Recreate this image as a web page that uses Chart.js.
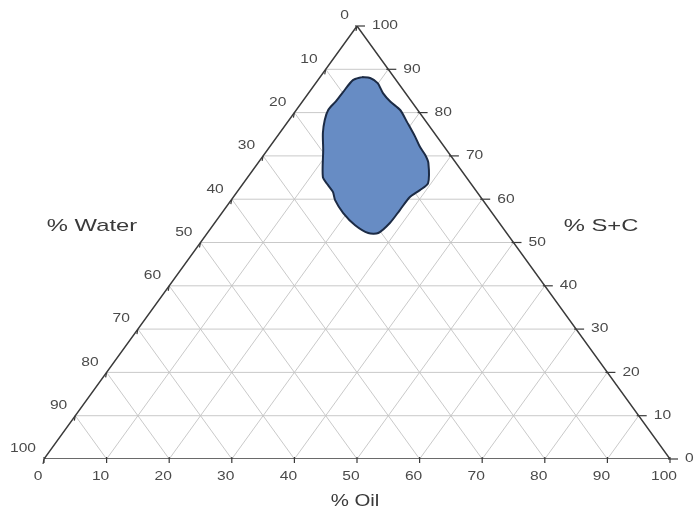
<!DOCTYPE html>
<html>
<head>
<meta charset="utf-8">
<script src="https://cdn.jsdelivr.net/npm/chart.js@4"></script>
<style>
  html, body { margin: 0; padding: 0; background: #fff; }
  #wrap { width: 694px; height: 512px; position: relative; }
</style>
</head>
<body>
<div id="wrap"><canvas id="ternario"></canvas></div>
<script>
// valores de los ejes (en %)
const tickValues = [0, 10, 20, 30, 40, 50, 60, 70, 80, 90, 100];
const gridLevels = [10, 20, 30, 40, 50, 60, 70, 80, 90];
const axisTitles = ["% Water", "% S+C", "% Oil"];

// contorno de la zona sombreada: % Oil y % S+C
const blobOil = [6.7, 5.6, 5.4, 5.3, 5.1, 5.7, 6.9, 8.9, 12.0, 13.7, 15.3, 16.6, 19.4, 22.7, 25.7, 27.3,
                 28.0, 28.1, 28.2, 29.0, 29.5, 27.2, 25.8, 24.0, 22.1, 19.1, 16.6, 14.1, 11.9, 9.9, 8.1];
const blobSC  = [88.2, 87.5, 84.8, 82.5, 80.6, 78.3, 75.3, 71.4, 65.1, 63.3, 61.7, 59.8, 56.8, 54.0, 52.2, 52.2,
                 54.5, 57.5, 60.5, 62.1, 63.7, 68.4, 70.2, 72.1, 74.4, 77.8, 80.6, 82.5, 84.5, 86.8, 88.0];

// paso de (oil, s+c) a coordenadas cartesianas
function tern(oil, sc) {
    return { x: oil + sc / 2, y: sc };
}

function linea(p1, p2) {
    return {
        data: [p1, p2],
        borderColor: "rgba(195,195,195,0.9)",
        borderWidth: 1,
        pointRadius: 0,
        fill: false,
        order: 3
    };
}

const datasets = [];

// rejilla
for (let k of gridLevels) {
    datasets.push(linea(tern(0, k), tern(100 - k, k)));      // S+C constante
    datasets.push(linea(tern(k, 0), tern(k, 100 - k)));      // Oil constante
    datasets.push(linea(tern(100 - k, 0), tern(0, 100 - k))); // Water constante
}

// zona sombreada
const blobPts = blobOil.map((o, i) => tern(o, blobSC[i]));
blobPts.push(blobPts[0]);
datasets.push({
    data: blobPts,
    borderColor: "#1c2b45",
    borderWidth: 2,
    backgroundColor: "#678cc4",
    pointRadius: 0,
    tension: 0.25,
    fill: "shape",
    order: 2
});

// bordes del triangulo
datasets.push({
    data: [tern(0, 0), tern(100, 0), tern(0, 100), tern(0, 0)],
    borderColor: "#3a3a3a",
    borderWidth: 1.5,
    pointRadius: 0,
    fill: false,
    order: 1
});

// texto algo ensanchado, como en la figura original
function texto(c, t, x, y, align, ancho) {
    c.save();
    c.translate(x, y);
    c.scale(ancho, 1);
    c.textAlign = align;
    c.fillText(t, 0, 0);
    c.restore();
}

// marcas y etiquetas de los tres ejes
const ejesTernarios = {
    id: "ejesTernarios",
    afterDatasetsDraw(chart) {
        const c = chart.ctx;
        const sx = chart.scales.x, sy = chart.scales.y;
        const px = p => [sx.getPixelForValue(p.x), sy.getPixelForValue(p.y)];
        c.save();
        c.strokeStyle = "#3a3a3a";
        c.lineWidth = 1.2;
        c.fillStyle = "#4a4a4a";
        c.textBaseline = "middle";
        c.font = "12px 'Liberation Sans', Arial, sans-serif";

        for (let v of tickValues) {
            // inferior: % Oil
            let [x, y] = px(tern(v, 0));
            c.beginPath(); c.moveTo(x, y - 2); c.lineTo(x, y + 4); c.stroke();
            texto(c, String(v), x - 6, y + 18, "center", 1.3);

            // derecho: % S+C
            [x, y] = px(tern(100 - v, v));
            c.beginPath(); c.moveTo(x - 2, y); c.lineTo(x + 8, y); c.stroke();
            texto(c, String(v), x + 15, y, "left", 1.3);

            // izquierdo: % Water
            [x, y] = px(tern(0, 100 - v));
            c.beginPath(); c.moveTo(x, y); c.lineTo(x - 1, y + 5); c.stroke();
            texto(c, String(v), x - 8, y - 10, "right", 1.3);
        }

        c.fillStyle = "#3a3a3a";
        c.font = "17px 'Liberation Sans', Arial, sans-serif";
        texto(c, axisTitles[0], 92, 226, "center", 1.4);
        texto(c, axisTitles[1], 601, 226, "center", 1.4);
        texto(c, axisTitles[2], 355, 501, "center", 1.2);
        c.restore();
    }
};

new Chart(document.getElementById("ternario"), {
    type: "line",
    data: { datasets },
    options: {
        responsive: true,
        maintainAspectRatio: false,
        animation: false,
        layout: { padding: { left: 44, right: 24, top: 26, bottom: 53 } },
        scales: {
            x: { type: "linear", min: 0, max: 100, display: false },
            y: { type: "linear", min: 0, max: 100, display: false }
        },
        plugins: {
            legend: { display: false },
            tooltip: { enabled: false }
        }
    },
    plugins: [ejesTernarios]
});
</script>
</body>
</html>
